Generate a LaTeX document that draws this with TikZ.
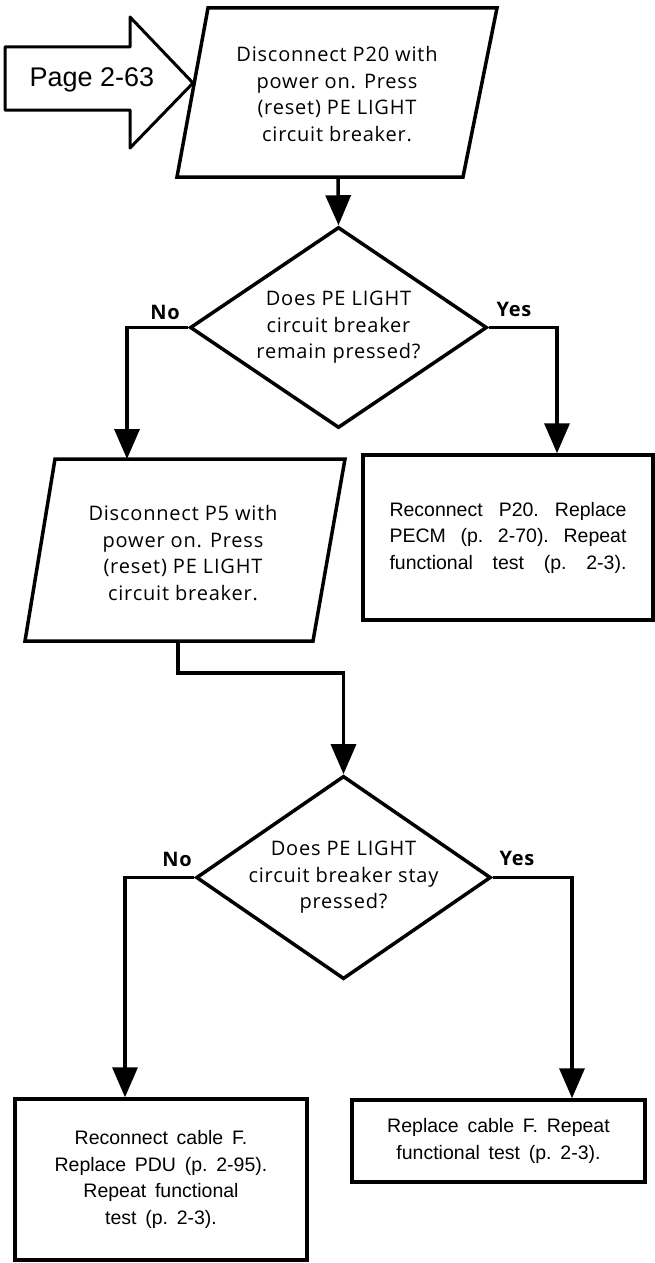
\documentclass[tikz,border=0pt]{standalone}
\usepackage{fontspec}
\usetikzlibrary{arrows.meta,shapes.geometric,calc}
\newfontfamily\optfont[LetterSpace=4]{Open Sans}
\newfontfamily\helv{Liberation Sans}

\tikzset{
  outline/.style={draw, line width=3.5pt, line join=miter},
  flow/.style={line width=3.5pt, -{Triangle[length=30pt,width=25pt]}},
  decision/.style={diamond, draw, line width=3.5pt, inner sep=0pt, aspect=1.45,
    font=\optfont\fontsize{20}{26.5}\selectfont, align=center},
  steptext/.style={font=\optfont\fontsize{20}{26.5}\selectfont, align=center, inner sep=0pt},
  actionbox/.style={rectangle, draw, line width=3.5pt, inner sep=0pt, align=center,
    font={\helv\fontsize{19.5}{26.5}\selectfont\frenchspacing
          \spaceskip=0.45em plus 0.8em minus 0.1em\relax}},
  answer/.style={font=\optfont\bfseries\fontsize{20}{20}\selectfont, inner sep=0pt},
  pagetag/.style={font=\helv\fontsize{27}{27}\selectfont, inner sep=0pt}
}

\begin{document}
\begin{tikzpicture}[x=1pt,y=-1pt]
\useasboundingbox (0,0) rectangle (655,1263);

% entry arrow from the previous page
\draw[line width=3pt, line join=round]
  (5,47) -- (130,47) -- (130,17) -- (193,83) -- (130,148) -- (130,110) -- (5,110) -- cycle;
\node[pagetag] (page) at (92,80) {Page 2-63};

% first step: disconnect P20
\draw[outline] (208,8) -- (497,8) -- (463,177) -- (177,177) -- cycle;
\node[steptext] (p1) at (337,94) {Disconnect P20 with\\power on. Press\\(reset) PE LIGHT\\circuit breaker.};
\coordinate (p1s) at (338,177);

% first decision
\node[decision, minimum width=297pt, minimum height=201pt] (d1) at (338.5,327.5)
  {Does PE LIGHT\\circuit breaker\\remain pressed?};
\draw[flow] (p1s) -- (d1.north);

% yes branch: replace PECM
\node[actionbox, minimum width=290pt, minimum height=165pt] (r1) at (508,537.5)
  {\makebox[237pt][s]{Reconnect P20. Replace}\\
   \makebox[237pt][s]{PECM (p. 2-70). Repeat}\\
   \makebox[237pt][s]{functional test (p. 2-3).}};
\coordinate (y1) at (557,327.5);
\draw[flow] (d1.east) -- (y1) -- (y1 |- r1.north);
\node[answer] (yes1) at (514,309) {Yes};

% no branch: disconnect P5
\draw[outline] (55,459) -- (345,459) -- (313,641) -- (25,641) -- cycle;
\node[steptext] (p2) at (183,553) {Disconnect P5 with\\power on. Press\\(reset) PE LIGHT\\circuit breaker.};
\coordinate (p2n) at (127,459);
\coordinate (n1) at (127,327.5);
\draw[flow] (d1.west) -- (n1) -- (p2n);
\node[answer] (no1) at (165,312) {No};

% second decision
\node[decision, minimum width=287pt, minimum height=201pt] (d2) at (343.5,877.5)
  {Does PE LIGHT\\circuit breaker stay\\pressed?};
\coordinate (p2s) at (178,641);
\coordinate (bend) at (178,673);
\draw[flow] (p2s) -- (bend) -| (d2.north);

% no branch: replace PDU
\node[actionbox, minimum width=292pt, minimum height=161pt] (r2) at (161,1179.5)
  {Reconnect cable F.\\Replace PDU (p. 2-95).\\Repeat functional\\test (p. 2-3).};
\coordinate (n2) at (125,877.5);
\draw[flow] (d2.west) -- (n2) -- (n2 |- r2.north);
\node[answer] (no2) at (177,859) {No};

% yes branch: replace cable F
\node[actionbox, minimum width=293pt, minimum height=82pt] (r3) at (498.5,1141)
  {Replace cable F. Repeat\\functional test (p. 2-3).};
\coordinate (y2) at (572,877.5);
\draw[flow] (d2.east) -- (y2) -- (y2 |- r3.north);
\node[answer] (yes2) at (517,858) {Yes};
\end{tikzpicture}
\end{document}
